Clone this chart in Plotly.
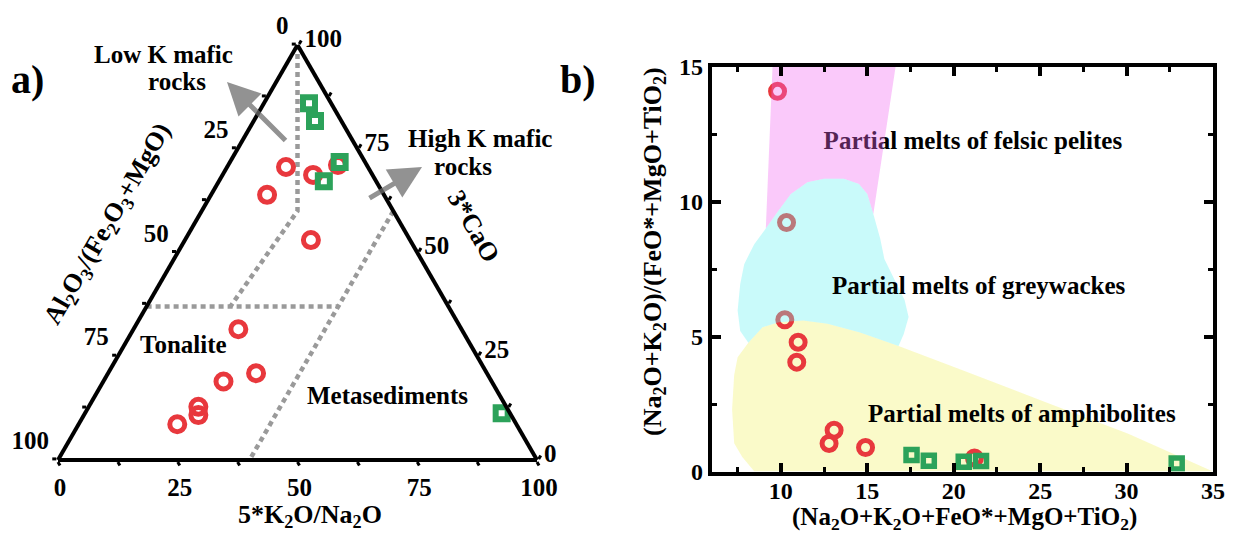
import plotly.graph_objects as go

# ---------------- Panel a) ternary data (in %) ----------------
# components: CaO (3*CaO, top), Al (Al2O3/(Fe2O3+MgO), bottom-left), K (5*K2O/Na2O, bottom-right)
red_CaO = [70.6, 68.7, 71.1, 63.9, 53.0, 31.5, 20.9, 18.9, 12.8, 10.8, 8.6]
red_Al = [17.1, 12.4, 6.0, 24.4, 20.7, 46.6, 48.2, 56.0, 64.3, 65.3, 70.8]
red_K = [12.3, 18.9, 22.9, 11.7, 26.3, 21.9, 30.9, 25.1, 22.9, 23.9, 20.6]

green_CaO = [86.0, 81.7, 71.8, 67.2, 11.25]
green_Al = [4.6, 5.5, 5.3, 10.9, 1.75]
green_K = [9.4, 12.8, 22.9, 21.9, 87.0]

# field boundaries (dashed)
bound1_CaO = [100, 60, 37]
bound1_Al = [0, 20, 45.5]
bound1_K = [0, 20, 17.5]
bound2_CaO = [37, 37]
bound2_Al = [63, 23]
bound2_K = [0, 40]
bound3_CaO = [60, 0]
bound3_Al = [0, 60]
bound3_K = [40, 40]

tern_tickvals = [0, 12.5, 25, 37.5, 50, 62.5, 75, 87.5, 100]
tern_ticktext = ["100", "", "75", "", "50", "", "25", "", "0"]

# ---------------- Panel b) data ----------------
red_b_x = [9.81, 10.33, 10.23, 11.0, 10.92, 13.08, 12.79, 14.9, 21.2]
red_b_y = [14.08, 9.22, 5.62, 4.79, 4.05, 1.53, 1.04, 0.89, 0.5]
green_b_x = [17.56, 18.56, 20.58, 21.58, 32.9]
green_b_y = [0.61, 0.4, 0.36, 0.39, 0.3]

felsic_x = [9.52, 16.64, 15.35, 15.0, 14.52, 13.65, 12.5, 11.54, 10.58, 9.85, 9.13]
felsic_y = [15.0, 15.0, 9.54, 10.28, 10.65, 10.84, 10.84, 10.71, 10.28, 9.65, 9.0]

grey_x = [7.5, 7.65, 7.88, 8.46, 9.13, 9.85, 10.58, 11.54, 12.5, 13.65, 14.52, 15.0, 15.35,
          15.75, 15.99, 16.57, 17.16, 17.39, 17.11, 16.81, 14.58, 12.7, 11.29, 9.88, 8.94, 8.12, 7.65]
grey_y = [5.96, 6.94, 7.68, 8.42, 9.0, 9.65, 10.28, 10.71, 10.84, 10.84, 10.65, 10.28, 9.54,
          8.62, 7.87, 7.11, 6.35, 5.72, 5.09, 4.65, 5.15, 5.47, 5.59, 5.53, 5.34, 4.77, 5.2]

amph_x = [8.12, 8.94, 9.88, 11.29, 12.7, 14.58, 16.81, 20.7, 25.4, 30.1, 35.0, 8.47, 7.77, 7.3, 7.18, 7.3, 7.5]
amph_y = [4.77, 5.34, 5.53, 5.59, 5.47, 5.15, 4.65, 3.7, 2.55, 1.4, 0.0, 0.0, 0.54, 1.05, 2.31, 3.57, 4.23]

FONT = "Liberation Serif, Times New Roman, serif"
RED = "#e8383d"
GREEN = "#2ca25a"
DASH_GREY = "#9a9a9a"

fig = go.Figure()

# ---- ternary traces ----
for ca, al, k in [(bound1_CaO, bound1_Al, bound1_K),
                  (bound2_CaO, bound2_Al, bound2_K),
                  (bound3_CaO, bound3_Al, bound3_K)]:
    fig.add_trace(go.Scatterternary(a=ca, b=al, c=k, mode="lines",
                                    line=dict(color=DASH_GREY, width=4.5, dash="5px,4px"),
                                    showlegend=False, hoverinfo="skip"))

fig.add_trace(go.Scatterternary(a=red_CaO, b=red_Al, c=red_K, mode="markers",
                                marker=dict(symbol="circle-open", size=15, color=RED,
                                            line=dict(width=5, color=RED)),
                                showlegend=False))
fig.add_trace(go.Scatterternary(a=green_CaO, b=green_Al, c=green_K, mode="markers",
                                marker=dict(symbol="square-open", size=12, color=GREEN,
                                            line=dict(width=6, color=GREEN)),
                                showlegend=False))

tick_font = dict(family=FONT, size=25, color="black", weight="bold")
tern_axis_common = dict(tickmode="array", tickvals=tern_tickvals,
                        ticks="outside", ticklen=4, tickwidth=3, tickcolor="black",
                        linecolor="black", linewidth=4, showgrid=False,
                        tickfont=tick_font, title=dict(text=""))
# left-edge labels sit a little above their ticks in the reference
aaxis = dict(tern_axis_common, ticktext=[t + "<br>&nbsp;" if t else "" for t in tern_ticktext])
baxis = dict(tern_axis_common, ticktext=tern_ticktext)
caxis = dict(tern_axis_common, ticktext=tern_ticktext)

# ---- panel b traces ----
fig.add_trace(go.Scatter(x=amph_x, y=amph_y, fill="toself", mode="none",
                         fillcolor="rgba(240,240,100,0.35)", showlegend=False,
                         hoverinfo="skip", xaxis="x", yaxis="y"))
fig.add_trace(go.Scatter(x=red_b_x, y=red_b_y, mode="markers",
                         marker=dict(symbol="circle-open", size=14, color=RED,
                                     line=dict(width=5, color=RED)),
                         showlegend=False, xaxis="x", yaxis="y"))
fig.add_trace(go.Scatter(x=green_b_x, y=green_b_y, mode="markers",
                         marker=dict(symbol="square-open", size=11, color=GREEN,
                                     line=dict(width=5.5, color=GREEN)),
                         showlegend=False, xaxis="x", yaxis="y"))
fig.add_trace(go.Scatter(x=[21.11], y=[12.17], mode="text",
                         text=["Partial melts of felsic pelites"],
                         textfont=dict(family=FONT, size=25, color="black", weight="bold"),
                         showlegend=False, hoverinfo="skip", xaxis="x", yaxis="y"))
fig.add_trace(go.Scatter(x=felsic_x, y=felsic_y, fill="toself", mode="none",
                         fillcolor="rgba(240,100,240,0.35)", showlegend=False,
                         hoverinfo="skip", xaxis="x", yaxis="y"))
fig.add_trace(go.Scatter(x=grey_x, y=grey_y, fill="toself", mode="none",
                         fillcolor="rgba(100,240,240,0.35)", showlegend=False,
                         hoverinfo="skip", xaxis="x", yaxis="y"))

# the page body adds an 8 px margin, so the figure is 8 px smaller and
# every reference pixel position is shifted by 8 px
OFF = 8
W, H = 1235 - OFF, 535 - OFF


def px(x):
    return (x - OFF) / W


def py(y):
    return (H - (y - OFF)) / H


ann_font = dict(family=FONT, size=25, color="black", weight="bold")
title_font = dict(family=FONT, size=26, color="black", weight="bold")
annotations = [
    dict(text="a)", x=px(27), y=py(80), font=dict(family=FONT, size=40, color="black", weight="bold")),
    dict(text="b)", x=px(578), y=py(80), font=dict(family=FONT, size=40, color="black", weight="bold")),
    dict(text="Low K mafic", x=px(163), y=py(54), font=ann_font),
    dict(text="rocks", x=px(177), y=py(81), font=ann_font),
    dict(text="High K mafic", x=px(480), y=py(139), font=ann_font),
    dict(text="rocks", x=px(463), y=py(166), font=ann_font),
    dict(text="Tonalite", x=px(183), y=py(345), font=ann_font),
    dict(text="Metasediments", x=px(387), y=py(395), font=ann_font),
    dict(text="Al<sub>2</sub>O<sub>3</sub>/(Fe<sub>2</sub>O<sub>3</sub>+MgO)", x=px(108), y=py(225),
         textangle=-60, font=title_font),
    dict(text="3*CaO", x=px(474), y=py(226), textangle=60, font=title_font),
    dict(text="5*K<sub>2</sub>O/Na<sub>2</sub>O", x=px(310), y=py(516), font=title_font),
    dict(text="(Na<sub>2</sub>O+K<sub>2</sub>O+FeO*+MgO+TiO<sub>2</sub>)", x=px(964), y=py(518),
         font=dict(title_font, size=25)),
    dict(text="(Na<sub>2</sub>O+K<sub>2</sub>O)/(FeO*+MgO+TiO<sub>2</sub>)", x=px(654), y=py(252),
         textangle=-90, font=title_font),
    dict(text="Partial melts of greywackes", x=21.43, y=6.88, xref="x", yref="y", font=ann_font),
    dict(text="Partial melts of amphibolites", x=23.96, y=2.16, xref="x", yref="y", font=ann_font),
]
for a in annotations:
    a.setdefault("xref", "paper")
    a.setdefault("yref", "paper")
    a["showarrow"] = False
    a["xanchor"] = "center"
    a["yanchor"] = "middle"

# arrows
arrow_col = "rgba(110,110,110,0.75)"
annotations.append(dict(x=px(227), y=py(82), xref="paper", yref="paper", ax=60, ay=60,
                        text="", showarrow=True, arrowhead=2, arrowsize=1.3, arrowwidth=5,
                        arrowcolor=arrow_col))
annotations.append(dict(x=px(422), y=py(167), xref="paper", yref="paper", ax=-54, ay=32,
                        text="", showarrow=True, arrowhead=2, arrowsize=1.3, arrowwidth=5,
                        arrowcolor=arrow_col))

axis_common = dict(showline=True, linewidth=4, linecolor="black", mirror="allticks",
                   ticks="inside", ticklen=9, tickwidth=4, tickcolor="black",
                   minor=dict(ticks="inside", ticklen=5, tickwidth=3, tickcolor="black",
                              tickmode="linear", tick0=0, dtick=2.5),
                   showgrid=False, zeroline=False, tickfont=dict(tick_font, size=24),
                   automargin=False, tickmode="linear", tick0=0, dtick=5)

fig.update_layout(
    width=W, height=H,
    margin=dict(l=0, r=0, t=0, b=0, autoexpand=False),
    paper_bgcolor="white", plot_bgcolor="white",
    showlegend=False,
    ternary=dict(
        sum=100,
        domain=dict(x=[px(58), px(537)], y=[py(460), py(45)]),
        bgcolor="white",
        aaxis=aaxis, baxis=baxis, caxis=caxis,
    ),
    xaxis=dict(axis_common, domain=[px(711.7), px(1213)], range=[6, 35], ticklabelstandoff=-5),
    yaxis=dict(axis_common, domain=[py(471.5), py(66.5)], range=[0, 15]),
    annotations=annotations,
)

fig.write_html("out.html")
